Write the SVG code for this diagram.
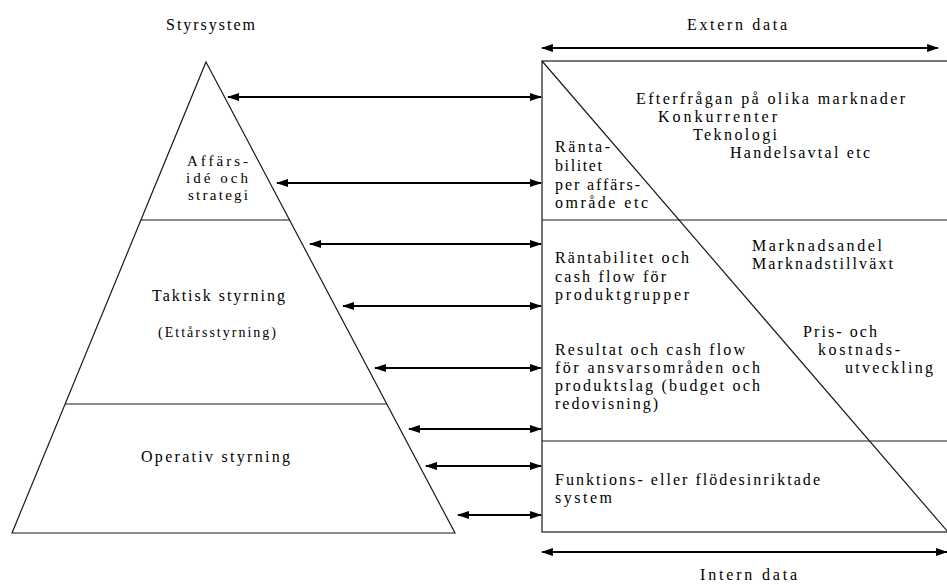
<svg xmlns="http://www.w3.org/2000/svg" width="947" height="586" viewBox="0 0 947 586">
<style>
text{font-family:"Liberation Serif","Times New Roman",serif;font-size:16px;fill:#000}
.sm{font-size:14px}
.md{font-size:15px}
.shape{fill:#fff;stroke:#1a1a1a;stroke-width:1.2}
.ln{stroke:#1a1a1a;stroke-width:1.2;fill:none}
.arr{stroke:#000;stroke-width:2;fill:none;marker-start:url(#ah);marker-end:url(#ah)}
</style>
<defs>
<marker id="ah" viewBox="0 0 12 8" refX="11" refY="4" markerWidth="12" markerHeight="8" markerUnits="userSpaceOnUse" orient="auto-start-reverse">
<path d="M0,0 L12,4 L0,8 z" fill="#000"/>
</marker>
</defs>
<rect width="947" height="586" fill="#fff"/>

<g id="titles">
<text x="166" y="30" textLength="89" lengthAdjust="spacing">Styrsystem</text>
<text x="687" y="30" textLength="100" lengthAdjust="spacing">Extern data</text>
<text x="700" y="580" textLength="97" lengthAdjust="spacing">Intern data</text>
</g>

<g id="pyramid">
<polygon class="shape" points="206,62 455,533 12,533"/>
<line class="ln" x1="141" y1="220" x2="290" y2="220"/>
<line class="ln" x1="65" y1="404" x2="387" y2="404"/>
</g>
<g id="node-affarside">
<text class="md" x="187" y="166" textLength="61" lengthAdjust="spacing">Affärs-</text>
<text class="md" x="186" y="183" textLength="62" lengthAdjust="spacing">idé och</text>
<text class="md" x="188" y="200" textLength="60" lengthAdjust="spacing">strategi</text>
</g>
<g id="node-taktisk">
<text x="152" y="301" textLength="133" lengthAdjust="spacing">Taktisk styrning</text>
<text class="sm" x="158" y="337" textLength="118" lengthAdjust="spacing">(Ettårsstyrning)</text>
</g>
<g id="node-operativ">
<text x="141" y="462" textLength="149" lengthAdjust="spacing">Operativ styrning</text>
</g>

<g id="data-box">
<rect class="shape" x="542" y="61" width="410" height="471"/>
<line class="ln" x1="542" y1="220" x2="952" y2="220"/>
<line class="ln" x1="542" y1="441" x2="952" y2="441"/>
<line class="ln" x1="542" y1="61" x2="948" y2="532"/>
</g>
<g id="node-extern-top">
<text x="636" y="104" textLength="269" lengthAdjust="spacing">Efterfrågan på olika marknader</text>
<text x="658" y="122" textLength="119" lengthAdjust="spacing">Konkurrenter</text>
<text x="693" y="140" textLength="84" lengthAdjust="spacing">Teknologi</text>
<text x="730" y="158" textLength="140" lengthAdjust="spacing">Handelsavtal etc</text>
</g>
<g id="node-rantabilitet">
<text x="555" y="152" textLength="55" lengthAdjust="spacing">Ränta-</text>
<text x="555" y="171" textLength="47" lengthAdjust="spacing">bilitet</text>
<text x="555" y="190" textLength="85" lengthAdjust="spacing">per affärs-</text>
<text x="555" y="208" textLength="93" lengthAdjust="spacing">område etc</text>
</g>
<g id="node-marknad">
<text x="752" y="251" textLength="130" lengthAdjust="spacing">Marknadsandel</text>
<text x="752" y="269" textLength="141" lengthAdjust="spacing">Marknadstillväxt</text>
</g>
<g id="node-produktgrupper">
<text x="555" y="263" textLength="134" lengthAdjust="spacing">Räntabilitet och</text>
<text x="555" y="282" textLength="111" lengthAdjust="spacing">cash flow för</text>
<text x="555" y="300" textLength="134" lengthAdjust="spacing">produktgrupper</text>
</g>
<g id="node-pris">
<text x="803" y="337" textLength="74" lengthAdjust="spacing">Pris- och</text>
<text x="818" y="355" textLength="82" lengthAdjust="spacing">kostnads-</text>
<text x="845" y="373" textLength="88" lengthAdjust="spacing">utveckling</text>
</g>
<g id="node-resultat">
<text x="555" y="355" textLength="190" lengthAdjust="spacing">Resultat och cash flow</text>
<text x="555" y="373" textLength="205" lengthAdjust="spacing">för ansvarsområden och</text>
<text x="555" y="391" textLength="205" lengthAdjust="spacing">produktslag (budget och</text>
<text x="555" y="409" textLength="103" lengthAdjust="spacing">redovisning)</text>
</g>
<g id="node-funktion">
<text x="555" y="485" textLength="265" lengthAdjust="spacing">Funktions- eller flödesinriktade</text>
<text x="555" y="503" textLength="57" lengthAdjust="spacing">system</text>
</g>

<g id="connectors">
<line class="arr" x1="542" y1="48" x2="938" y2="48"/>
<line class="arr" x1="542" y1="552" x2="947" y2="552"/>
<line class="arr" x1="228" y1="97" x2="541" y2="97"/>
<line class="arr" x1="277" y1="183" x2="541" y2="183"/>
<line class="arr" x1="310" y1="244" x2="541" y2="244"/>
<line class="arr" x1="343" y1="306" x2="541" y2="306"/>
<line class="arr" x1="375" y1="368" x2="541" y2="368"/>
<line class="arr" x1="409" y1="429" x2="541" y2="429"/>
<line class="arr" x1="426" y1="466" x2="541" y2="466"/>
<line class="arr" x1="458" y1="515" x2="541" y2="515"/>
</g>
</svg>
